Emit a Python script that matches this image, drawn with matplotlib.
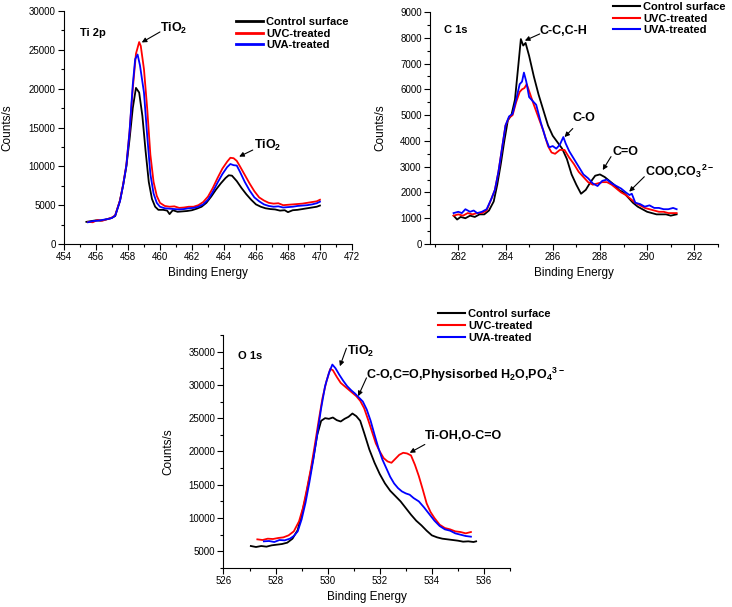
import matplotlib
matplotlib.use("Agg")
import matplotlib.pyplot as plt
from matplotlib.ticker import MultipleLocator

plt.rcParams['font.family'] = ['Liberation Sans', 'DejaVu Sans']
plt.rcParams['mathtext.fontset'] = 'custom'
plt.rcParams['mathtext.default'] = 'regular'

SERIES = ['Control surface', 'UVC-treated', 'UVA-treated']
COLORS = ['black', '#ff0000', '#0000ff']

# ---------------- Ti 2p ----------------
ti_x_ctrl = [455.4, 455.7, 456.0, 456.3, 456.6, 456.9, 457.2, 457.5, 457.7, 457.9,
             458.1, 458.3, 458.5, 458.7, 458.9, 459.1, 459.3, 459.5, 459.7, 459.9,
             460.2, 460.45, 460.6, 460.8, 461.1, 461.4, 461.7, 462.0, 462.3, 462.6,
             462.9, 463.2, 463.5, 463.8, 464.1, 464.3, 464.5, 464.8, 465.1, 465.4,
             465.7, 466.0, 466.3, 466.6, 466.9, 467.2, 467.5, 467.8, 468.0, 468.3,
             468.6, 468.9, 469.2, 469.5, 469.8, 470.0]
ti_y_ctrl = [2850, 2950, 3050, 3000, 3150, 3300, 3600, 5600, 7600, 10000,
             13500, 17500, 20100, 19500, 16500, 12000, 8000, 5800, 4800, 4400,
             4400, 4300, 3850, 4350, 4150, 4200, 4250, 4350, 4550, 4800,
             5300, 6100, 7000, 7800, 8500, 8850, 8800, 8100, 7200, 6400,
             5700, 5100, 4800, 4600, 4500, 4450, 4300, 4350, 4100, 4350,
             4400, 4500, 4600, 4700, 4800, 4950]

ti_x_uvc = [455.5, 455.8, 456.1, 456.4, 456.7, 457.0, 457.2, 457.5, 457.7, 457.9,
            458.1, 458.3, 458.5, 458.7, 458.8, 459.0, 459.2, 459.4, 459.6, 459.8,
            460.0, 460.3, 460.6, 460.9, 461.2, 461.5, 461.8, 462.1, 462.4, 462.7,
            463.0, 463.3, 463.6, 463.9, 464.2, 464.4, 464.6, 464.8, 465.0, 465.3,
            465.6, 465.9, 466.2, 466.5, 466.8, 467.1, 467.4, 467.7, 468.0, 468.3,
            468.6, 468.9, 469.2, 469.5, 469.8, 470.0]
ti_y_uvc = [2850, 2800, 3100, 3000, 3200, 3400, 3700, 5600, 7700, 10200,
            14500, 20000, 24500, 26000, 25500, 22500, 17500, 11500, 8000, 6200,
            5300, 4900, 4800, 4850, 4650, 4700, 4800, 4800, 5000, 5400,
            6100, 7200, 8500, 9700, 10600, 11100, 11050, 10700, 10000, 8900,
            7800, 6800, 6000, 5600, 5300, 5200, 5250, 5000, 5050, 5100,
            5150, 5200, 5300, 5400, 5500, 5700]

ti_x_uva = [455.5, 455.8, 456.1, 456.4, 456.7, 457.0, 457.2, 457.5, 457.7, 457.9,
            458.1, 458.3, 458.45, 458.6, 458.75, 459.0, 459.2, 459.4, 459.6, 459.8,
            460.0, 460.3, 460.6, 460.9, 461.2, 461.5, 461.8, 462.1, 462.4, 462.7,
            463.0, 463.3, 463.6, 463.9, 464.2, 464.4, 464.6, 464.8, 465.0, 465.3,
            465.6, 465.9, 466.2, 466.5, 466.8, 467.1, 467.4, 467.7, 468.0, 468.3,
            468.6, 468.9, 469.2, 469.5, 469.8, 470.0]
ti_y_uva = [2800, 2950, 3000, 3100, 3200, 3350, 3650, 5500, 7600, 10100,
            14500, 20500, 23800, 24400, 23000, 19500, 14000, 9000, 6500, 5300,
            4800, 4600, 4550, 4500, 4450, 4500, 4600, 4650, 4800, 5100,
            5700, 6700, 7900, 9000, 9900, 10300, 10150, 10100, 9300, 8000,
            6900, 6000, 5500, 5100, 4900, 4800, 4850, 4700, 4750, 4800,
            4900, 4950, 5000, 5100, 5250, 5450]

# ---------------- C 1s ----------------
c_x_ctrl = [281.8, 281.95, 282.1, 282.3, 282.5, 282.7, 282.9, 283.1, 283.3, 283.5,
            283.65, 283.8, 283.95, 284.1, 284.25, 284.4, 284.55, 284.65, 284.75, 284.85,
            285.0, 285.2, 285.4, 285.6, 285.8, 286.0, 286.2, 286.4, 286.6, 286.8,
            287.0, 287.2, 287.4, 287.6, 287.8, 288.0, 288.2, 288.4, 288.6, 288.8,
            289.0, 289.2, 289.4, 289.6, 289.8, 290.0, 290.2, 290.4, 290.6, 290.8,
            291.0, 291.25]
c_y_ctrl = [1100, 950, 1050, 1000, 1100, 1050, 1150, 1150, 1300, 1650,
            2300, 3100, 4000, 4800, 5000, 5600, 7000, 7950, 7700, 7800,
            7300, 6500, 5800, 5200, 4600, 4200, 3950, 3700, 3300, 2700,
            2300, 1950, 2100, 2400, 2650, 2700, 2600, 2450, 2300, 2100,
            2000, 1800, 1600, 1450, 1350, 1250, 1200, 1150, 1150, 1150,
            1100, 1150]

c_x_uvc = [281.8, 282.0, 282.2, 282.4, 282.6, 282.8, 283.0, 283.2, 283.4, 283.55,
           283.7, 283.85, 284.0, 284.15, 284.3, 284.45, 284.6, 284.7, 284.8, 284.9,
           285.05, 285.2, 285.4, 285.6, 285.8, 285.95, 286.1, 286.3, 286.5, 286.7,
           286.9, 287.1, 287.3, 287.5, 287.7, 287.9, 288.1, 288.3, 288.5, 288.7,
           288.9, 289.1, 289.3, 289.5, 289.7, 289.9, 290.1, 290.3, 290.5, 290.7,
           290.9, 291.1, 291.25]
c_y_uvc = [1100, 1150, 1100, 1200, 1150, 1200, 1200, 1300, 1750, 2100,
           2800, 3700, 4600, 4900, 5000, 5500, 5900, 6000, 6050, 6200,
           5800, 5400, 4900, 4400, 3800, 3550, 3500, 3650, 3650, 3350,
           3100, 2800, 2600, 2400, 2300, 2350, 2400, 2400, 2300, 2150,
           2000, 1900, 1750, 1600, 1500, 1400, 1350, 1300, 1250, 1250,
           1200, 1200, 1200]

c_x_uva = [281.8, 282.0, 282.15, 282.3, 282.5, 282.65, 282.8, 283.0, 283.2, 283.4,
           283.55, 283.7, 283.85, 284.0, 284.15, 284.3, 284.45, 284.6, 284.7, 284.78,
           284.88, 285.0, 285.15, 285.3, 285.5, 285.7, 285.85, 286.0, 286.15, 286.3,
           286.45, 286.55, 286.7, 286.9, 287.1, 287.3, 287.5, 287.7, 287.9, 288.1,
           288.3, 288.5, 288.7, 288.9, 289.1, 289.25, 289.35, 289.5, 289.7, 289.9,
           290.1, 290.3, 290.5, 290.7, 290.9, 291.1, 291.25]
c_y_uva = [1200, 1250, 1200, 1350, 1250, 1300, 1200, 1250, 1350, 1750,
           2100, 2800, 3700, 4600, 4950, 5050, 5600, 6200, 6300, 6650,
           6300, 5700, 5550, 5400, 4700, 4100, 3750, 3800, 3700, 3850,
           4150, 3900, 3600, 3300, 3000, 2700, 2550, 2350, 2250, 2450,
           2500, 2350, 2250, 2150, 2000, 1900, 1950, 1600, 1550, 1450,
           1500, 1400, 1400, 1350, 1350, 1400, 1350]

# ---------------- O 1s ----------------
o_x_ctrl = [527.05, 527.25, 527.45, 527.65, 527.85, 528.05, 528.25, 528.45, 528.65, 528.85,
            529.0, 529.15, 529.3, 529.45, 529.6, 529.75, 529.9, 530.05, 530.2, 530.35,
            530.5, 530.65, 530.8, 530.95, 531.1, 531.25, 531.4, 531.6, 531.8, 532.0,
            532.2, 532.4, 532.6, 532.8, 533.0, 533.2, 533.4, 533.6, 533.8, 534.0,
            534.2, 534.4, 534.6, 534.8, 535.0, 535.2, 535.4, 535.6, 535.7]
o_y_ctrl = [5800, 5650, 5800, 5700, 5900, 6000, 6100, 6300, 6900, 8200,
            10500, 13000, 16000, 19000, 22500, 24600, 25000, 24900, 25100, 24700,
            24500, 24900, 25200, 25700, 25300, 24600, 22800, 20300, 18300, 16600,
            15200, 14100, 13300, 12500, 11500, 10500, 9600, 8900, 8100, 7400,
            7100, 6900, 6800, 6700, 6600, 6450, 6500, 6400, 6500]

o_x_uvc = [527.3, 527.5, 527.7, 527.9, 528.1, 528.3, 528.5, 528.7, 528.9, 529.05,
           529.2, 529.35, 529.5, 529.65, 529.8, 529.95, 530.1, 530.2, 530.35, 530.5,
           530.65, 530.8, 530.95, 531.1, 531.25, 531.4, 531.55, 531.7, 531.85, 532.0,
           532.15, 532.3, 532.45, 532.6, 532.75, 532.9, 533.05, 533.2, 533.35, 533.5,
           533.65, 533.8, 533.95, 534.1, 534.3, 534.5, 534.7, 534.9, 535.1, 535.3,
           535.5]
o_y_uvc = [6800, 6700, 6900, 6850, 7000, 7100, 7400, 8000, 9500, 11500,
           14300, 17300, 20800, 24500, 28000, 30500, 32400, 32200, 31200, 30300,
           29800, 29300, 28800, 28300, 27600, 26500, 24800, 23000, 21200, 20000,
           19000, 18500, 18300, 18900, 19500, 19800, 19700, 19400, 18000, 16300,
           14300, 12200, 10900, 10000, 9000, 8500, 8300, 8000, 7900, 7700,
           7900]

o_x_uva = [527.55, 527.75, 527.95, 528.15, 528.35, 528.55, 528.7, 528.85, 529.0, 529.15,
           529.3, 529.45, 529.6, 529.75, 529.9, 530.05, 530.18, 530.3, 530.45, 530.6,
           530.75, 530.9, 531.05, 531.2, 531.35, 531.5, 531.65, 531.8, 531.95, 532.1,
           532.25, 532.4, 532.55, 532.7, 532.85, 533.0, 533.15, 533.3, 533.5, 533.7,
           533.9, 534.1, 534.3, 534.5, 534.7, 534.9, 535.1, 535.3, 535.5]
o_y_uva = [6500, 6550, 6400, 6700, 6650, 6900, 7300, 8000, 9800, 12300,
           15400, 18800, 22600, 26500, 29800, 31800, 33050, 32500, 31500, 30600,
           29800, 29200, 28700, 28100, 27500, 26300, 24600, 22500, 20500, 18800,
           17500, 16200, 15200, 14500, 14000, 13700, 13500, 13000, 12500, 11600,
           10600, 9600, 8800, 8300, 8100, 7700, 7500, 7300, 7200]


def style_axes(ax, xlim, ylim, xmaj, ymaj):
    ax.set_xlim(*xlim)
    ax.set_ylim(*ylim)
    ax.xaxis.set_major_locator(MultipleLocator(xmaj))
    ax.xaxis.set_minor_locator(MultipleLocator(xmaj / 2))
    ax.yaxis.set_major_locator(MultipleLocator(ymaj))
    ax.yaxis.set_minor_locator(MultipleLocator(ymaj / 2))
    for side in ('top', 'right'):
        ax.spines[side].set_visible(False)
    for side in ('left', 'bottom'):
        ax.spines[side].set_linewidth(0.8)
    ax.tick_params(which='major', direction='out', length=4, width=0.8, labelsize=7, pad=2)
    ax.tick_params(which='minor', direction='out', length=2.5, width=0.8)
    ax.set_xlabel('Binding Energy', fontsize=8.5)
    ax.set_ylabel('Counts/s', fontsize=8.5)
    ax.xaxis.set_label_coords(0.5, -0.10)


def draw(ax, curves, lw=1.3):
    for (x, y), col, name in zip(curves, COLORS, SERIES):
        ax.plot(x, y, color=col, lw=lw, label=name)


def note(ax, text, pos, start, tip):
    ax.text(pos[0], pos[1], text, fontsize=9, fontweight='bold', ha='left', va='center')
    ax.annotate('', xy=tip, xytext=start,
                arrowprops=dict(arrowstyle='-|>', color='black', lw=0.8,
                                mutation_scale=7, shrinkA=0, shrinkB=0))


def add_legend(ax, fig, anchor, hlw):
    leg = ax.legend(loc='upper left', bbox_to_anchor=anchor, bbox_transform=fig.transFigure,
                    frameon=False, borderpad=0, borderaxespad=0, handlelength=2.4,
                    handletextpad=0.3, labelspacing=0.15,
                    prop={'size': 8, 'weight': 'bold'})
    for h in leg.get_lines():
        h.set_linewidth(hlw)


fig = plt.figure(figsize=(7.32, 6.07), dpi=100)

# Ti 2p
ax1 = fig.add_axes([0.0874, 0.598, 0.3934, 0.3839])
draw(ax1, [(ti_x_ctrl, ti_y_ctrl), (ti_x_uvc, ti_y_uvc), (ti_x_uva, ti_y_uva)])
style_axes(ax1, (454, 472), (0, 30000), 2, 5000)
ax1.yaxis.set_label_coords(-0.175, 0.5)
ax1.text(455.0, 27200, 'Ti 2p', fontsize=8, fontweight='bold', va='center')
note(ax1, 'TiO$_2$', (460.0, 27800), (460.0, 27300), (458.86, 25950))
note(ax1, 'TiO$_2$', (465.9, 12750), (465.8, 12100), (464.95, 11250))
add_legend(ax1, fig, (0.3224, 0.972), 2.0)

# C 1s
ax2 = fig.add_axes([0.5874, 0.598, 0.3934, 0.3822])
draw(ax2, [(c_x_ctrl, c_y_ctrl), (c_x_uvc, c_y_uvc), (c_x_uva, c_y_uva)])
style_axes(ax2, (280.8, 293), (0, 9000), 2, 1000)
ax2.yaxis.set_label_coords(-0.15, 0.5)
ax2.text(281.4, 8300, 'C 1s', fontsize=8, fontweight='bold', va='center')
note(ax2, 'C-C,C-H', (285.45, 8280), (285.45, 8150), (284.82, 7890))
note(ax2, 'C-O', (286.85, 4870), (286.85, 4480), (286.5, 4150))
note(ax2, 'C=O', (288.54, 3580), (288.47, 3390), (288.12, 2870))
note(ax2, 'COO,CO$_3$$^{2-}$', (289.92, 2800), (289.88, 2610), (289.24, 2030))
add_legend(ax2, fig, (0.8378, 0.9967), 1.5)

# O 1s
ax3 = fig.add_axes([0.3053, 0.0643, 0.3914, 0.3839])
draw(ax3, [(o_x_ctrl, o_y_ctrl), (o_x_uvc, o_y_uvc), (o_x_uva, o_y_uva)])
style_axes(ax3, (526, 537), (2500, 37500), 2, 5000)
ax3.yaxis.set_label_coords(-0.172, 0.5)
ax3.text(526.55, 34300, 'O 1s', fontsize=8, fontweight='bold', va='center')
note(ax3, 'TiO$_2$', (530.76, 35000), (530.72, 35500), (530.47, 32800))
note(ax3, 'C-O,C=O,Physisorbed H$_2$O,PO$_4$$^{3-}$', (531.49, 31550), (531.49, 31050), (531.17, 28300))
note(ax3, 'Ti-OH,O-C=O', (533.73, 22300), (533.73, 21050), (533.15, 19800))
add_legend(ax3, fig, (0.5988, 0.4904), 1.5)

fig.savefig('out.png', dpi=100)
